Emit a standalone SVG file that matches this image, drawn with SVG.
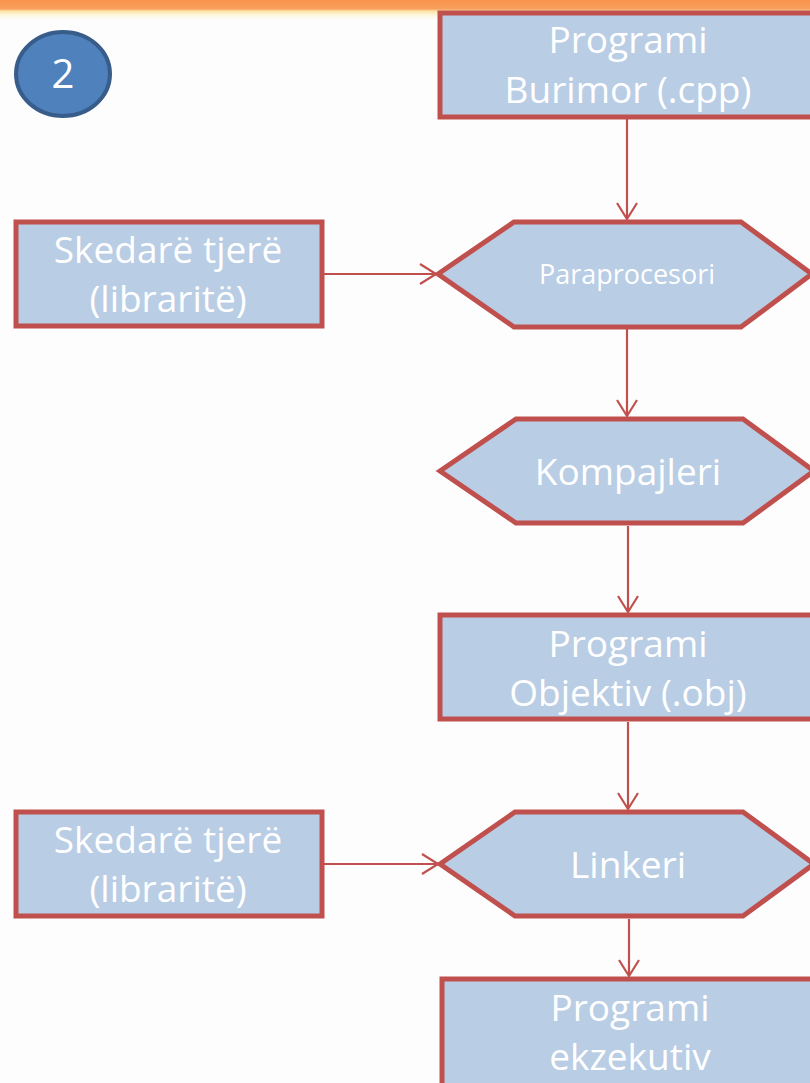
<svg xmlns="http://www.w3.org/2000/svg" width="810" height="1083" viewBox="0 0 810 1083">
<defs>
<linearGradient id="topbar" x1="0" y1="0" x2="0" y2="1">
<stop offset="0" stop-color="#F7934C"/>
<stop offset="0.45" stop-color="#F9A05E"/>
<stop offset="0.55" stop-color="#FCE3A6"/>
<stop offset="0.75" stop-color="#FEF6DC"/>
<stop offset="1" stop-color="#FDFDFD"/>
</linearGradient>
<marker id="arr" markerUnits="userSpaceOnUse" markerWidth="22" markerHeight="24" viewBox="0 0 22 24" refX="17" refY="12" orient="auto">
<path d="M1,2 L17,12 L1,22" fill="none" stroke="#C0504D" stroke-width="2.2"/>
</marker>
<style>
.box{fill:#B9CDE5;stroke:#C0504D;stroke-width:5;stroke-linejoin:miter}
.lbl{fill:#FFFFFF;font-family:"Open Sans","Noto Sans",sans-serif;text-anchor:middle}
.big{font-size:37px}
.small{font-size:27px}
.conn{stroke:#C0504D;stroke-width:2.2;fill:none}
</style>
</defs>
<rect x="0" y="0" width="810" height="1083" fill="#FDFDFD"/>
<rect x="0" y="0" width="810" height="20" fill="url(#topbar)"/>

<g id="step-badge">
<ellipse cx="63" cy="74" rx="47" ry="42" fill="#4F81BD" stroke="#385D8A" stroke-width="4"/>
<text class="lbl" x="63" y="88" font-size="40">2</text>
</g>

<g id="connectors">
<line class="conn" x1="627" y1="118" x2="627" y2="219" marker-end="url(#arr)"/>
<line class="conn" x1="324" y1="274" x2="436" y2="274" marker-end="url(#arr)"/>
<line class="conn" x1="627" y1="329" x2="627" y2="416" marker-end="url(#arr)"/>
<line class="conn" x1="628" y1="526" x2="628" y2="612" marker-end="url(#arr)"/>
<line class="conn" x1="628" y1="722" x2="628" y2="809" marker-end="url(#arr)"/>
<line class="conn" x1="324" y1="864" x2="438" y2="864" marker-end="url(#arr)"/>
<line class="conn" x1="629" y1="919" x2="629" y2="976" marker-end="url(#arr)"/>
</g>

<g id="source-program">
<rect class="box" x="440" y="13" width="380" height="104"/>
<text class="lbl big" x="628" y="53">Programi</text>
<text class="lbl big" x="628" y="103">Burimor (.cpp)</text>
</g>

<g id="libraries-1">
<rect class="box" x="16" y="222" width="306" height="104"/>
<text class="lbl big" x="168" y="263">Skedarë tjerë</text>
<text class="lbl big" x="168" y="312">(libraritë)</text>
</g>

<g id="preprocessor">
<polygon class="box" points="438,274 514,222 741,222 812,274 741,327 514,327"/>
<text class="lbl small" x="627" y="284">Paraprocesori</text>
</g>

<g id="compiler">
<polygon class="box" points="440,471 516,419 743,419 814,471 743,523 516,523"/>
<text class="lbl big" x="628" y="485">Kompajleri</text>
</g>

<g id="object-program">
<rect class="box" x="440" y="615" width="380" height="104"/>
<text class="lbl big" x="628" y="657">Programi</text>
<text class="lbl big" x="628" y="706">Objektiv (.obj)</text>
</g>

<g id="libraries-2">
<rect class="box" x="16" y="812" width="306" height="104"/>
<text class="lbl big" x="168" y="853">Skedarë tjerë</text>
<text class="lbl big" x="168" y="902">(libraritë)</text>
</g>

<g id="linker">
<polygon class="box" points="440,864 515,812 743,812 814,864 743,916 515,916"/>
<text class="lbl big" x="628" y="878">Linkeri</text>
</g>

<g id="executable">
<rect class="box" x="442" y="979" width="380" height="120"/>
<text class="lbl big" x="630" y="1021">Programi</text>
<text class="lbl big" x="630" y="1070">ekzekutiv</text>
</g>
</svg>
